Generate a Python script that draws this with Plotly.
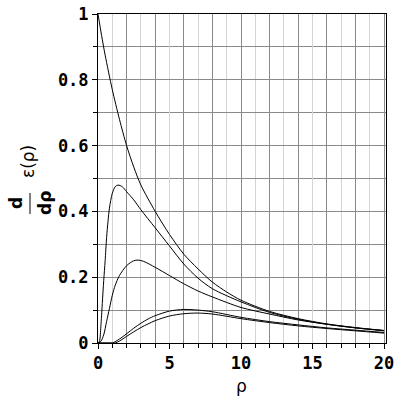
import plotly.graph_objects as go

# rho sample positions and curve values
rho_a = [0, 0.25, 0.5, 1, 1.5, 2, 2.5, 3, 4, 5, 6, 7, 8, 9, 10, 12, 14, 16, 18, 20]
val_a = [1.0, 0.935, 0.875, 0.77, 0.68, 0.60, 0.535, 0.48, 0.40, 0.33, 0.27, 0.225, 0.185, 0.155, 0.13, 0.096, 0.074, 0.058, 0.047, 0.038]

rho_b = [0, 0.1, 0.2, 0.3, 0.4, 0.5, 0.6, 0.7, 0.8, 1.0, 1.2, 1.4, 1.7, 2, 2.5, 3, 4, 5, 6, 7, 8, 10, 12, 14, 16, 18, 20]
val_b = [0, 0.005, 0.05, 0.12, 0.19, 0.25, 0.32, 0.37, 0.41, 0.455, 0.475, 0.48, 0.475, 0.46, 0.435, 0.405, 0.35, 0.295, 0.24, 0.197, 0.165, 0.125, 0.093, 0.072, 0.057, 0.046, 0.037]

rho_c = [0, 0.2, 0.4, 0.6, 0.8, 1.0, 1.2, 1.5, 2, 2.5, 2.8, 3.2, 4, 5, 6, 7, 8, 10, 12, 14, 16, 18, 20]
val_c = [0, 0.005, 0.025, 0.065, 0.105, 0.145, 0.175, 0.205, 0.235, 0.25, 0.252, 0.248, 0.23, 0.205, 0.18, 0.158, 0.14, 0.108, 0.088, 0.07, 0.057, 0.046, 0.038]

rho_d = [0, 0.5, 1.0, 1.2, 1.5, 2, 2.5, 3, 3.5, 4, 5, 6, 7, 8, 10, 12, 14, 16, 18, 20]
val_d = [0, 0, 0, 0.004, 0.012, 0.028, 0.045, 0.06, 0.073, 0.083, 0.097, 0.102, 0.1, 0.095, 0.078, 0.065, 0.055, 0.046, 0.039, 0.032]

rho_e = [0, 0.5, 1.0, 1.2, 1.5, 2, 2.5, 3, 3.5, 4, 5, 6, 7, 8, 10, 12, 14, 16, 18, 20]
val_e = [0, 0, 0, 0, 0.006, 0.02, 0.034, 0.047, 0.058, 0.068, 0.082, 0.089, 0.091, 0.088, 0.074, 0.062, 0.052, 0.044, 0.037, 0.030]

x_tick_vals = [0, 5, 10, 15, 20]
y_tick_vals = [0, 0.2, 0.4, 0.6, 0.8, 1]
y_tick_text = ["0", "0.2", "0.4", "0.6", "0.8", "1"]

fig = go.Figure()
for rx, vy in [(rho_a, val_a), (rho_b, val_b), (rho_c, val_c), (rho_d, val_d), (rho_e, val_e)]:
    fig.add_trace(go.Scatter(x=rx, y=vy, mode="lines", line=dict(color="black", width=1, shape="spline", smoothing=0.8),
                             showlegend=False, hoverinfo="skip"))

W, H = 400, 400
L, R, T, B = 98, 14, 14, 57

tickfont = dict(family="DejaVu Sans Mono", size=17, color="black", weight="bold")
fig.update_layout(
    width=W, height=H,
    margin=dict(l=L, r=R, t=T, b=B, pad=0, autoexpand=False),
    plot_bgcolor="white", paper_bgcolor="white",
    xaxis=dict(range=[0, 20.14], tickvals=x_tick_vals, ticks="outside", ticklen=5, tickcolor="black",
               showline=True, linecolor="black", linewidth=1, mirror=True, zeroline=False, automargin=False,
               ticklabeloverflow="allow",
               showgrid=True, gridcolor="#d4d4d4", gridwidth=1, tickfont=tickfont,
               minor=dict(dtick=1, ticks="outside", ticklen=4, tickcolor="black", showgrid=True, gridcolor="#d4d4d4")),
    xaxis2=dict(range=[0, 20.14], overlaying="x", side="bottom", dtick=2, tick0=0, showticklabels=False, automargin=False,
                ticks="", showgrid=True, gridcolor="#8a8a8a", gridwidth=1, zeroline=False, showline=False),
    yaxis=dict(range=[0, 1], tickvals=y_tick_vals, ticktext=y_tick_text, ticks="outside", ticklen=5, tickcolor="black",
               showline=True, linecolor="black", linewidth=1, mirror=True, zeroline=False, automargin=False,
               ticklabeloverflow="allow",
               showgrid=True, gridcolor="#8a8a8a", gridwidth=1, tickfont=tickfont,
               minor=dict(dtick=0.1, ticks="outside", ticklen=4, tickcolor="black", showgrid=True, gridcolor="#8a8a8a")),
)
# invisible trace on xaxis2 so the overlay axis (even-valued gridlines) renders
fig.add_trace(go.Scatter(x=[0], y=[0], xaxis="x2", mode="markers", marker=dict(opacity=0), showlegend=False, hoverinfo="skip"))

pw = W - L - R
ph = H - T - B
def px(xp):  # page pixel -> paper x
    return (xp - L) / pw
def py(yp):  # page pixel -> paper y
    return (H - B - yp) / ph

lab = dict(family="DejaVu Sans", size=17, color="black")
common = dict(showarrow=False, xanchor="center", yanchor="middle")
fig.add_annotation(text="ρ", x=10, xref="x", y=py(386), yref="paper", font=lab, **common)
fig.add_annotation(text="<b>d</b>", x=px(16), xref="paper", y=py(203), yref="paper", textangle=-90, font=lab, **common)
fig.add_annotation(text="<b>dρ</b>", x=px(45), xref="paper", y=py(203), yref="paper", textangle=-90, font=lab, **common)
fig.add_annotation(text="ε(ρ)", x=px(28), xref="paper", y=py(162), yref="paper", textangle=-90, font=lab, **common)
fig.add_shape(type="line", xref="paper", yref="paper", x0=px(30), x1=px(30), y0=py(193), y1=py(214), line=dict(color="black", width=1))

fig.write_html("out.html", config={"displayModeBar": False},
               post_script="document.body.style.margin='0';document.body.style.overflow='hidden';")
